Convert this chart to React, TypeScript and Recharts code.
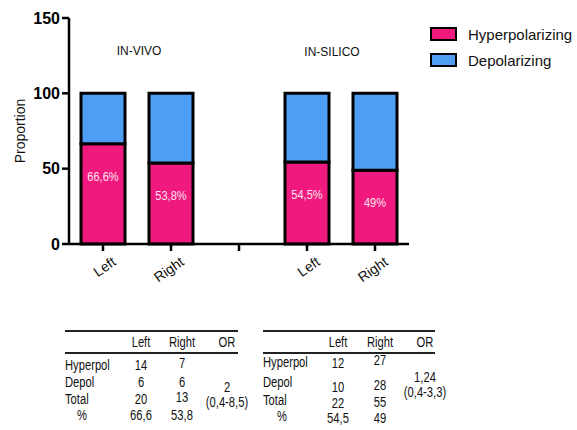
import React from 'react';
import { BarChart, Bar, XAxis, YAxis, LabelList } from 'recharts';

const categories = ['Left', 'Right', '', 'Left', 'Right'];
const hyperpolarizing = [66.6, 53.8, null, 54.5, 49];
const depolarizing = [33.4, 46.2, null, 45.5, 51];
const barLabels = ['66,6%', '53,8%', '', '54,5%', '49%'];
const yTicks = [0, 50, 100, 150];

const tableHeaders = ['Left', 'Right', 'OR'];
const rowLabels = ['Hyperpol', 'Depol', 'Total', '%'];
const vivoLeft = ['14', '6', '20', '66,6'];
const vivoRight = ['7', '6', '13', '53,8'];
const vivoOR = ['2', '(0,4-8,5)'];
const silicoLeft = ['12', '10', '22', '54,5'];
const silicoRight = ['27', '28', '55', '49'];
const silicoOR = ['1,24', '(0,4-3,3)'];

const PINK = '#F0197D';
const BLUE = '#4F9EF5';
const sans = '"Liberation Sans", Arial, sans-serif';

const data = categories.map((c, i) => ({
  name: c,
  hyper: hyperpolarizing[i],
  depol: depolarizing[i],
  label: barLabels[i],
}));

const XTick = (props: any) => {
  const { x, y, payload } = props;
  const ax = x + 14;
  const ay = y + 11;
  return (
    <text x={ax} y={ay} textAnchor="end" fontSize={14} fontFamily={sans} fill="#111"
      transform={`rotate(-35, ${ax}, ${ay})`}>
      {payload.value}
    </text>
  );
};

const BarText = (props: any) => {
  const { x, y, width, value } = props;
  if (!value) return null;
  const cx = x + width / 2;
  const cy = y + 37;
  return (
    <text x={cx} y={cy} textAnchor="middle" fontSize={13} fontFamily={sans} fill="#fde3ef"
      transform={`translate(${cx} 0) scale(0.85 1) translate(${-cx} 0)`}>
      {value}
    </text>
  );
};

const LegendBox = () => (
  <div style={{ position: 'absolute', left: 430, top: 21, fontFamily: sans, fontSize: 15, color: '#111' }}>
    {[['Hyperpolarizing', PINK], ['Depolarizing', BLUE]].map(([n, c]) => (
      <div key={n} style={{ display: 'flex', alignItems: 'center', height: 26 }}>
        <div style={{ width: 23, height: 10, background: c, border: '2.5px solid #000', marginRight: 11 }} />
        <span>{n}</span>
      </div>
    ))}
  </div>
);

function StatTable({ left, width, cols, rowY, valY, orY, leftVals, rightVals, or, pctX }: any) {
  const txt = (s: string, cx: number, cy: number, key: string, anchor = 'center') => (
    <div key={key} style={{
      position: 'absolute', left: anchor === 'left' ? cx : cx - 50, top: cy - 7, width: 100,
      textAlign: anchor as any, lineHeight: '14px', whiteSpace: 'nowrap',
      transform: 'scaleX(0.8)', transformOrigin: anchor === 'left' ? 'left center' : 'center center',
    }}>{s}</div>
  );
  return (
    <div style={{ position: 'absolute', left: 0, top: 0, fontFamily: sans, fontSize: 14, color: '#111' }}>
      <div style={{ position: 'absolute', left, top: 330, width, borderTop: '2px solid #222' }} />
      <div style={{ position: 'absolute', left, top: 352, width, borderTop: '2px solid #222' }} />
      {tableHeaders.map((h, i) => txt(h, cols[i], 342, 'h' + i))}
      {rowLabels.map((r, i) => r === '%' ? txt(r, pctX, rowY[i], 'r' + i) : txt(r, left, rowY[i], 'r' + i, 'left'))}
      {leftVals.map((v: string, i: number) => txt(v, cols[0], valY[0][i], 'l' + i))}
      {rightVals.map((v: string, i: number) => txt(v, cols[1], valY[1][i], 'g' + i))}
      {or.map((v: string, i: number) => txt(v, cols[2], orY[i], 'o' + i))}
    </div>
  );
}

export default function App() {
  return (
    <div style={{ position: 'absolute', left: 0, top: 0, width: 577, height: 430, background: '#fff', overflow: 'hidden' }}>
      <BarChart width={577} height={300} data={data} barSize={44}
        margin={{ top: 18, right: 168, bottom: 6, left: 9 }} barCategoryGap={0}>
        <YAxis domain={[0, 150]} ticks={yTicks} width={60} stroke="#000" strokeWidth={2.5} tickSize={7}
          tick={{ fontSize: 16, fontWeight: 'bold', fill: '#000', fontFamily: sans }}
          label={{ value: 'Proportion', angle: -90, position: 'insideLeft', offset: 11, style: { fontSize: 14, fill: '#111', fontFamily: sans, textAnchor: 'middle' } }} />
        <XAxis dataKey="name" stroke="#000" strokeWidth={2.5} tickSize={7} height={50} interval={0} tick={<XTick />} />
        <Bar dataKey="hyper" stackId="a" name="Hyperpolarizing" fill={PINK} stroke="#000" strokeWidth={3} isAnimationActive={false}>
          <LabelList dataKey="label" content={<BarText />} />
        </Bar>
        <Bar dataKey="depol" stackId="a" name="Depolarizing" fill={BLUE} stroke="#000" strokeWidth={3} isAnimationActive={false} />
      </BarChart>
      <LegendBox />
      <div style={{ position: 'absolute', left: 99, top: 44, width: 80, textAlign: 'center', fontFamily: sans, fontSize: 12, color: '#111' }}>IN-VIVO</div>
      <div style={{ position: 'absolute', left: 292, top: 45, width: 80, textAlign: 'center', fontFamily: sans, fontSize: 12, color: '#111' }}>IN-SILICO</div>
      <StatTable left={65} width={173} cols={[141, 182, 227]} pctX={82}
        rowY={[365, 382, 399, 415]} valY={[[365, 382, 399, 415], [363, 382, 397, 415]]} orY={[387, 402]}
        leftVals={vivoLeft} rightVals={vivoRight} or={vivoOR} />
      <StatTable left={263} width={172} cols={[338, 380, 425]} pctX={282}
        rowY={[362, 382, 400, 416]} valY={[[363, 387, 403, 418], [360, 385, 402, 418]]} orY={[377, 392]}
        leftVals={silicoLeft} rightVals={silicoRight} or={silicoOR} />
    </div>
  );
}
